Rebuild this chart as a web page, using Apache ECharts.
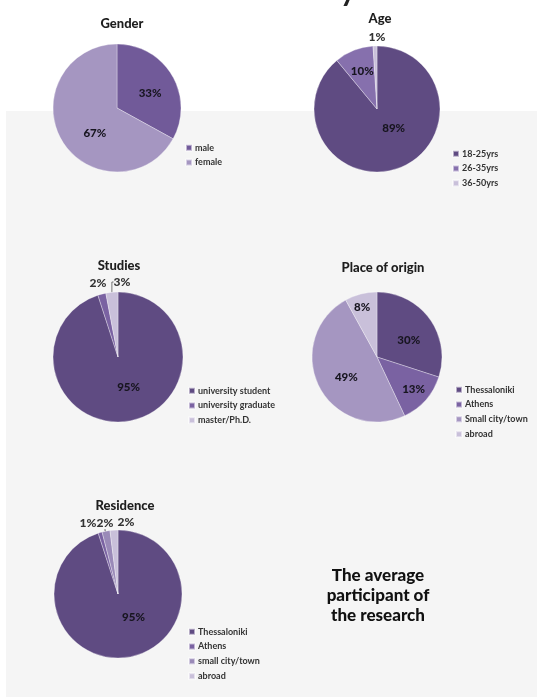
<!DOCTYPE html>
<html>
<head>
<meta charset="utf-8">
<script src="https://cdn.jsdelivr.net/npm/echarts@6/dist/echarts.min.js"></script>
<style>
  html, body { margin: 0; padding: 0; background: #ffffff; }
  #chart { width: 537px; height: 697px; }
</style>
</head>
<body>
<div id="chart"></div>
<script>
// Survey profile: five pie charts describing the participants
const genderLabels = ['male', 'female'];
const genderValues = [33, 67];

const ageLabels = ['18-25yrs', '26-35yrs', '36-50yrs'];
const ageValues = [89, 10, 1];

const studiesLabels = ['university student', 'university graduate', 'master/Ph.D.'];
const studiesValues = [95, 2, 3];

const originLabels = ['Thessaloniki', 'Athens', 'Small city/town', 'abroad'];
const originValues = [30, 13, 49, 8];

const residenceLabels = ['Thessaloniki', 'Athens', 'small city/town', 'abroad'];
const residenceValues = [95, 1, 2, 2];

const FONT = 'Lato, "DejaVu Sans", sans-serif';

// Shared purple palette (dark to light)
const DARK = '#5f4b82';
const MID = '#7a62a2';
const SOFT = '#9a8ab8';
const LIGHT = '#a596c1';
const PALE = '#c9c0da';

// Per-pie layout: centre, radius, title/legend placement and label nudges.
// "pinned" labels sit above the pie top (small slices), the rest are nudged from the inside spot.
const pies = [
  { title: 'Gender', labels: genderLabels, values: genderValues,
    colors: ['#715a99', LIGHT], center: [117, 108], r: 64,
    titlePos: [117, 12], legendPos: [185, 142],
    nudge: [[3, 3], [8, 7]], pinned: {}, leader: [] },
  { title: 'Age', labels: ageLabels, values: ageValues,
    colors: [DARK, '#8670ad', PALE], center: [377, 109], r: 63,
    titlePos: [375, 7], legendPos: [452, 148],
    nudge: [[5, -13], [-2, -6], [0, 0]], pinned: { 2: [377, 37] }, leader: [] },
  { title: 'Studies', labels: studiesLabels, values: studiesValues,
    colors: [DARK, MID, PALE], center: [118, 357], r: 65,
    titlePos: [114, 254], legendPos: [188, 385],
    nudge: [[5, -5], [0, 0], [0, 0]], pinned: { 1: [98, 283], 2: [122, 282] }, leader: [2] },
  { title: 'Place of origin', labels: originLabels, values: originValues,
    colors: [DARK, MID, LIGHT, PALE], center: [377, 357], r: 65,
    titlePos: [378, 256], legendPos: [455, 384],
    nudge: [[3, 4], [10, 9], [1, 4], [-6, -15]], pinned: {}, leader: [] },
  { title: 'Residence', labels: residenceLabels, values: residenceValues,
    colors: [DARK, MID, SOFT, PALE], center: [118, 594], r: 64,
    titlePos: [120, 494], legendPos: [188, 626],
    nudge: [[10, -11], [0, 0], [0, 0], [0, 0]], pinned: { 1: [88, 523], 2: [105, 523], 3: [126, 522] }, leader: [2] }
];

const chart = echarts.init(document.getElementById('chart'));

const option = {
  backgroundColor: '#ffffff',
  animation: false,
  title: pies.map(p => ({
    text: p.title,
    left: p.titlePos[0],
    top: p.titlePos[1],
    textAlign: 'center',
    textStyle: { fontFamily: FONT, fontSize: 13, fontWeight: 900, color: '#1e1e1e' }
  })),
  legend: pies.map((p, i) => ({
    seriesIndex: i,
    data: p.labels,
    orient: 'vertical',
    left: p.legendPos[0],
    top: p.legendPos[1],
    icon: 'rect',
    itemWidth: 6,
    itemHeight: 6,
    itemGap: 3.3,
    padding: 0,
    selectedMode: false,
    textStyle: { fontFamily: FONT, fontSize: 9, fontWeight: 'bold', color: '#333', lineHeight: 11.5, padding: [0, 0, 0, -2] }
  })),
  graphic: [
    { type: 'rect', z: -100, silent: true,
      shape: { x: 6, y: 111, width: 531, height: 586 },
      style: { fill: '#f5f5f5' } },
    { type: 'text', silent: true, x: 348, y: 6,
      style: { text: 'y', font: 'bold 30px ' + FONT, fill: '#222', align: 'center', verticalAlign: 'bottom' } },
    { type: 'text', silent: true, x: 378, y: 566,
      style: { text: 'The average\nparticipant of\nthe research', align: 'center', verticalAlign: 'top',
        font: '900 17px ' + FONT, lineHeight: 20, fill: '#111' } }
  ],
  series: pies.map(p => ({
    type: 'pie',
    center: p.center,
    radius: p.r,
    startAngle: 90,
    clockwise: true,
    avoidLabelOverlap: false,
    silent: true,
    itemStyle: { borderColor: 'rgba(255,255,255,0.55)', borderWidth: 0.6 },
    label: {
      show: true,
      position: 'inside',
      formatter: '{c}%',
      fontFamily: FONT,
      fontSize: 11.5,
      fontWeight: 900,
      color: '#17151f'
    },
    labelLine: { show: false },
    labelLayout: function (params) {
      const pin = p.pinned[params.dataIndex];
      if (pin) {
        return { x: pin[0], y: pin[1], align: 'center', verticalAlign: 'middle' };
      }
      const n = p.nudge[params.dataIndex] || [0, 0];
      return { dx: n[0], dy: n[1] };
    },
    data: p.labels.map((name, k) => {
      const item = { name: name, value: p.values[k], itemStyle: { color: p.colors[k] } };
      if (p.pinned[k]) {
        item.label = { position: 'outside', fontSize: 12, color: '#333' };
        item.labelLine = { show: p.leader.indexOf(k) >= 0, length: 4, length2: 2,
          lineStyle: { color: '#555', width: 0.8 } };
      }
      return item;
    })
  }))
};

chart.setOption(option);
</script>
</body>
</html>
